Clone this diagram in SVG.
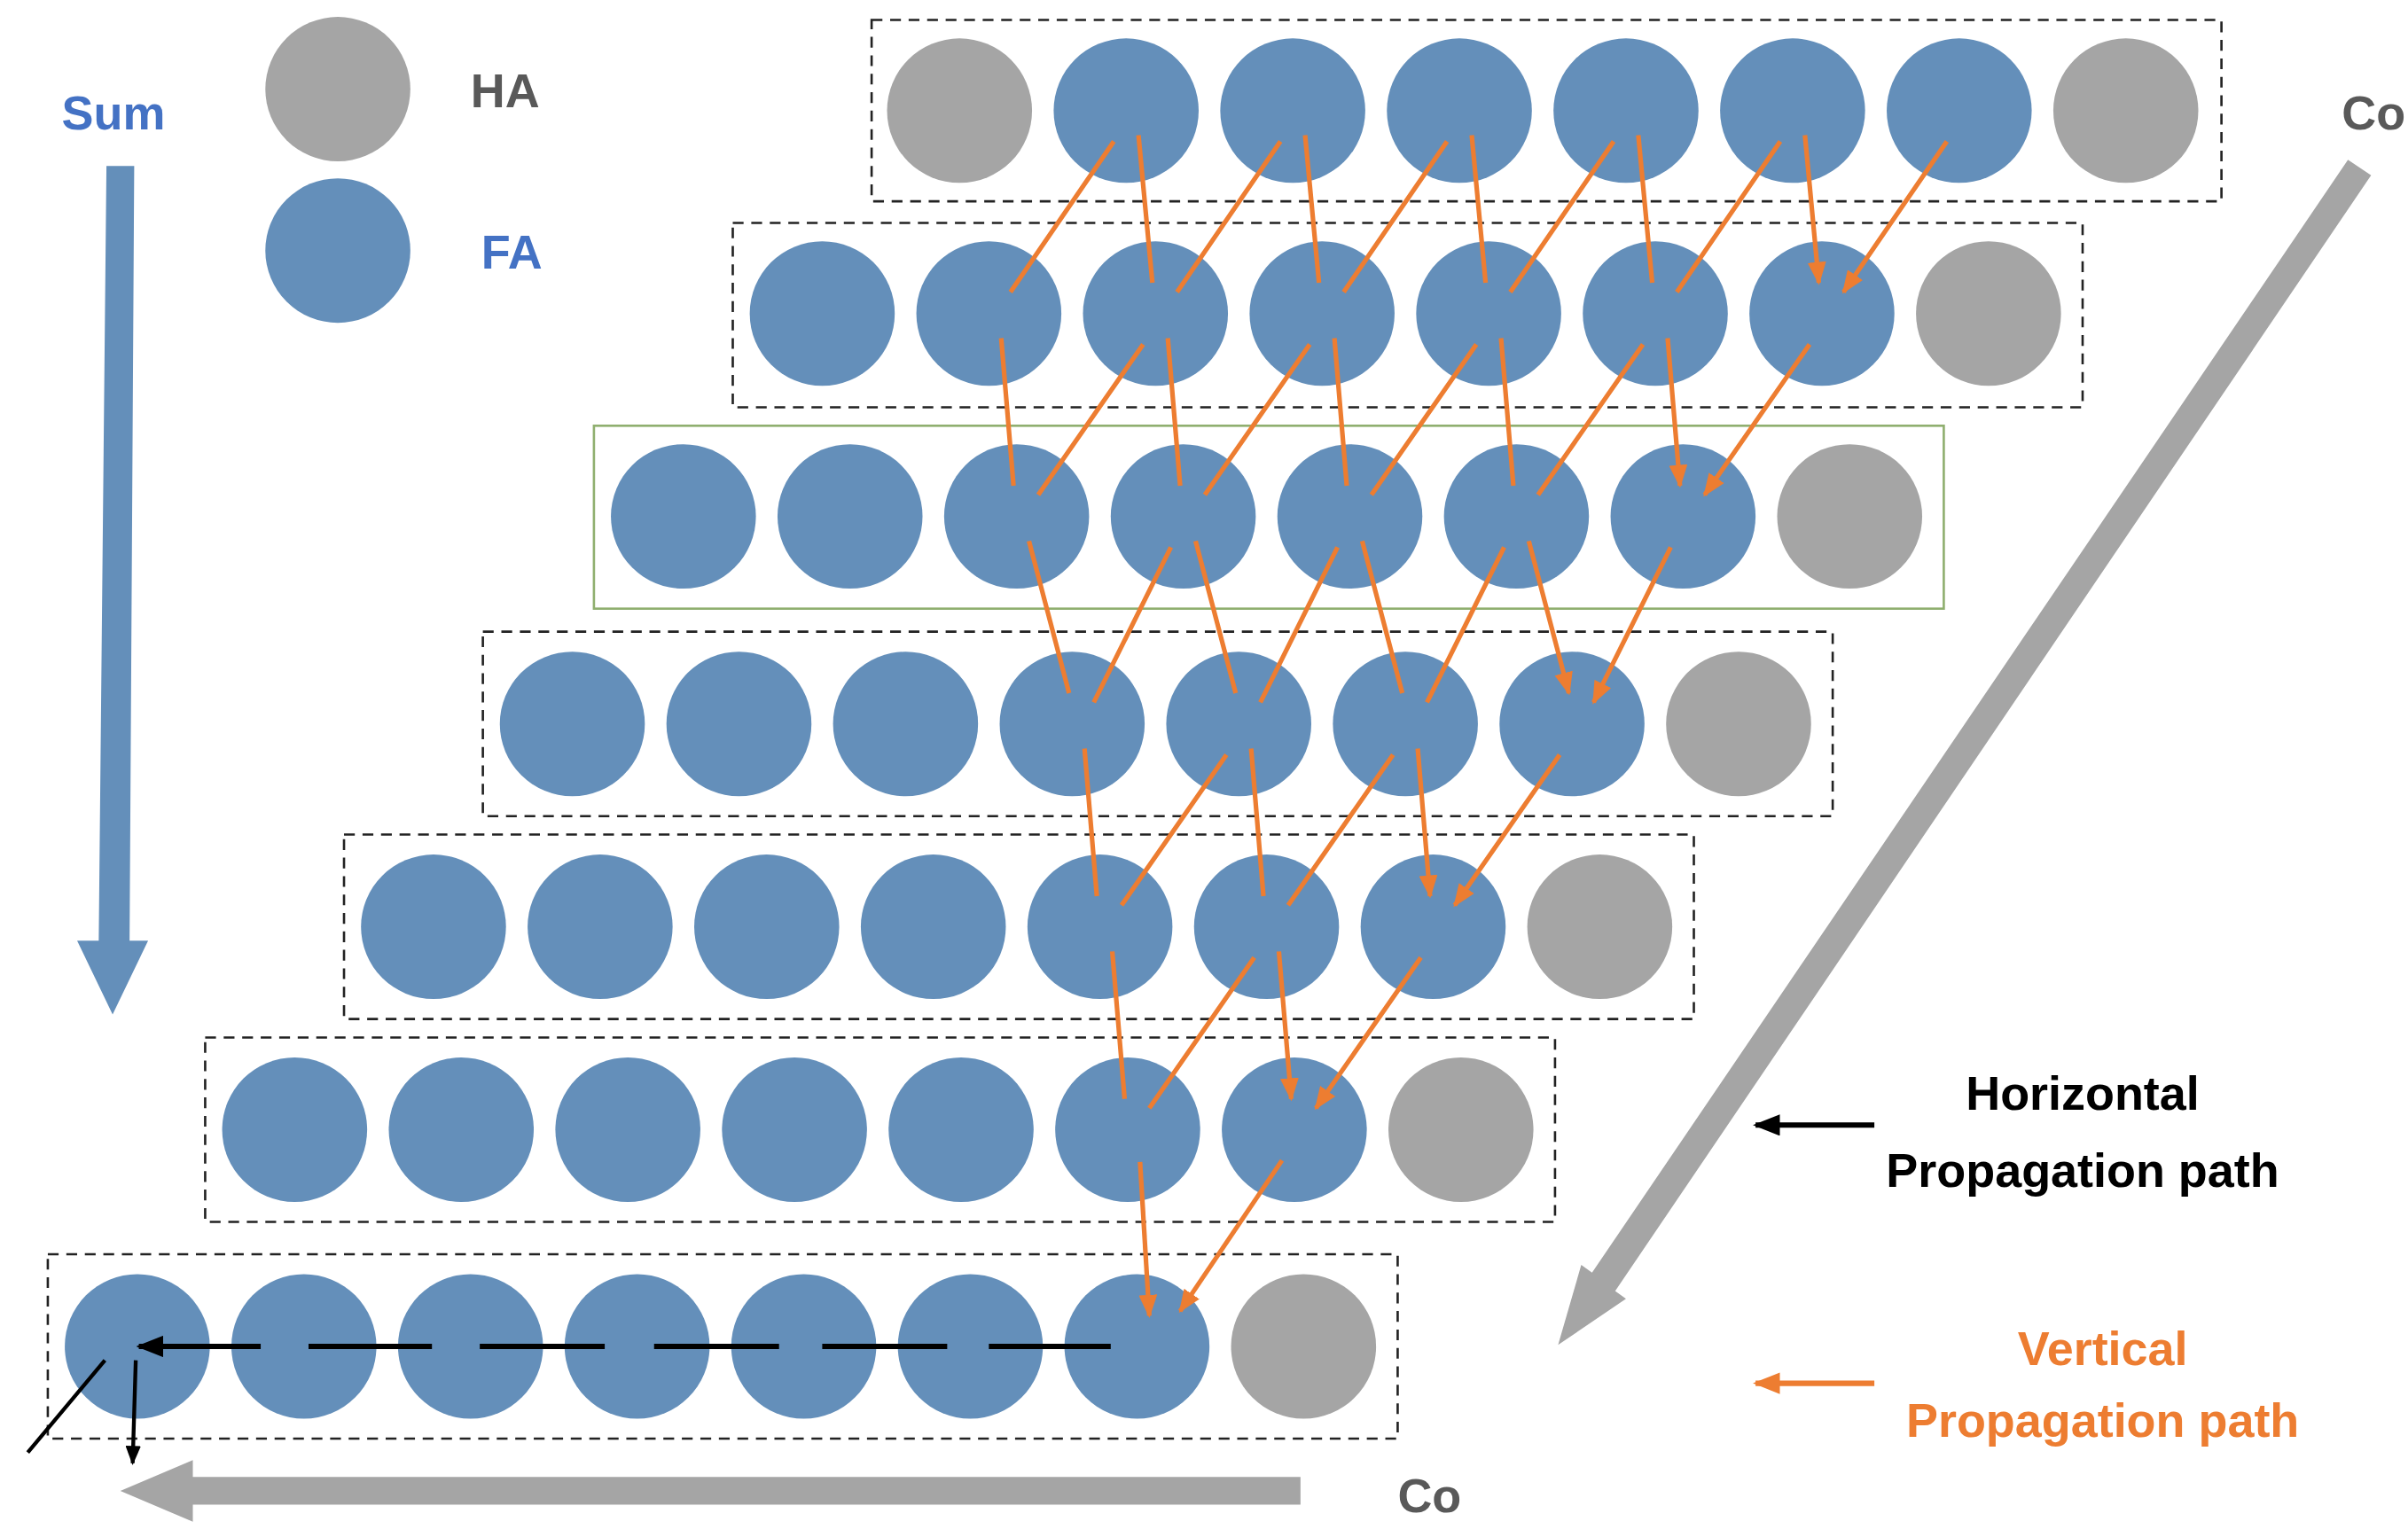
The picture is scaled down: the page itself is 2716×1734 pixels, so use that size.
<svg xmlns="http://www.w3.org/2000/svg" width="2716" height="1734" viewBox="0 0 2716 1734">
<style>
.fa{fill:#648FBA}.ha{fill:#A5A5A5}
.box{fill:none;stroke:#222;stroke-width:1.5;stroke-dasharray:7 5}
.or{stroke:#ED7D31;stroke-width:3;fill:none;marker-end:url(#mo)}
.bk{stroke:#000;stroke-width:3.5;fill:none;marker-end:url(#mb)}
.bk2{stroke:#000;stroke-width:2.5;fill:none;marker-end:url(#mb)}
text{font-family:"Liberation Sans",Arial,sans-serif;font-weight:bold;font-size:31px}
</style>
<defs>
<marker id="mo" markerWidth="5" markerHeight="4" refX="4.5" refY="2" orient="auto" markerUnits="strokeWidth"><path d="M0,0 L5,2 L0,4 z" fill="#ED7D31"/></marker>
<marker id="mb" markerWidth="5" markerHeight="4" refX="4.5" refY="2" orient="auto" markerUnits="strokeWidth"><path d="M0,0 L5,2 L0,4 z" fill="#000"/></marker>
</defs>
<rect width="2716" height="1734" fill="#fff"/>
<g transform="scale(1.74 1.734)">
<g id="legend">
<text x="40" y="84" fill="#4472C4">Sum</text>
<polygon points="69,108 87,108 84,612 96,612 73,660 50,612 64,612" fill="#648FBA"/>
<circle cx="219" cy="58" r="47" class="ha"/><text x="305" y="70" fill="#595959">HA</text>
<circle cx="219" cy="163" r="47" class="fa"/><text x="312" y="175" fill="#4472C4">FA</text>
</g>
<g id="row1"><rect x="565" y="13" width="875" height="118" class="box"/>
<circle cx="622" cy="72" r="47" class="ha"/><circle cx="730" cy="72" r="47" class="fa"/><circle cx="838" cy="72" r="47" class="fa"/><circle cx="946" cy="72" r="47" class="fa"/><circle cx="1054" cy="72" r="47" class="fa"/><circle cx="1162" cy="72" r="47" class="fa"/><circle cx="1270" cy="72" r="47" class="fa"/><circle cx="1378" cy="72" r="47" class="ha"/></g>
<g id="row2"><rect x="475" y="145" width="875" height="120" class="box"/>
<circle cx="533" cy="204" r="47" class="fa"/><circle cx="641" cy="204" r="47" class="fa"/><circle cx="749" cy="204" r="47" class="fa"/><circle cx="857" cy="204" r="47" class="fa"/><circle cx="965" cy="204" r="47" class="fa"/><circle cx="1073" cy="204" r="47" class="fa"/><circle cx="1181" cy="204" r="47" class="fa"/><circle cx="1289" cy="204" r="47" class="ha"/></g>
<g id="row3"><rect x="385" y="277" width="875" height="119" fill="none" stroke="#8FAF6F" stroke-width="1.5"/>
<circle cx="443" cy="336" r="47" class="fa"/><circle cx="551" cy="336" r="47" class="fa"/><circle cx="659" cy="336" r="47" class="fa"/><circle cx="767" cy="336" r="47" class="fa"/><circle cx="875" cy="336" r="47" class="fa"/><circle cx="983" cy="336" r="47" class="fa"/><circle cx="1091" cy="336" r="47" class="fa"/><circle cx="1199" cy="336" r="47" class="ha"/></g>
<g id="row4"><rect x="313" y="411" width="875" height="120" class="box"/>
<circle cx="371" cy="471" r="47" class="fa"/><circle cx="479" cy="471" r="47" class="fa"/><circle cx="587" cy="471" r="47" class="fa"/><circle cx="695" cy="471" r="47" class="fa"/><circle cx="803" cy="471" r="47" class="fa"/><circle cx="911" cy="471" r="47" class="fa"/><circle cx="1019" cy="471" r="47" class="fa"/><circle cx="1127" cy="471" r="47" class="ha"/></g>
<g id="row5"><rect x="223" y="543" width="875" height="120" class="box"/>
<circle cx="281" cy="603" r="47" class="fa"/><circle cx="389" cy="603" r="47" class="fa"/><circle cx="497" cy="603" r="47" class="fa"/><circle cx="605" cy="603" r="47" class="fa"/><circle cx="713" cy="603" r="47" class="fa"/><circle cx="821" cy="603" r="47" class="fa"/><circle cx="929" cy="603" r="47" class="fa"/><circle cx="1037" cy="603" r="47" class="ha"/></g>
<g id="row6"><rect x="133" y="675" width="875" height="120" class="box"/>
<circle cx="191" cy="735" r="47" class="fa"/><circle cx="299" cy="735" r="47" class="fa"/><circle cx="407" cy="735" r="47" class="fa"/><circle cx="515" cy="735" r="47" class="fa"/><circle cx="623" cy="735" r="47" class="fa"/><circle cx="731" cy="735" r="47" class="fa"/><circle cx="839" cy="735" r="47" class="fa"/><circle cx="947" cy="735" r="47" class="ha"/></g>
<g id="row7"><rect x="31" y="816" width="875" height="120" class="box"/>
<circle cx="89" cy="876" r="47" class="fa"/><circle cx="197" cy="876" r="47" class="fa"/><circle cx="305" cy="876" r="47" class="fa"/><circle cx="413" cy="876" r="47" class="fa"/><circle cx="521" cy="876" r="47" class="fa"/><circle cx="629" cy="876" r="47" class="fa"/><circle cx="737" cy="876" r="47" class="fa"/><circle cx="845" cy="876" r="47" class="ha"/></g>
<g id="connectors">
<path class="or" d="M738,88L747,184M846,88L855,184M954,88L963,184M1062,88L1071,184M1170,88L1179,184"/>
<path class="or" d="M722,92L655,190M830,92L763,190M938,92L871,190M1046,92L979,190M1154,92L1087,190M1262,92L1195,190"/>
<path class="or" d="M649,220L657,316M757,220L765,316M865,220L873,316M973,220L981,316M1081,220L1089,316"/>
<path class="or" d="M741,224L673,322M849,224L781,322M957,224L889,322M1065,224L997,322M1173,224L1105,322"/>
<path class="or" d="M667,352L693,451M775,352L801,451M883,352L909,451M991,352L1017,451"/>
<path class="or" d="M759,356L709,457M867,356L817,457M975,356L925,457M1083,356L1033,457"/>
<path class="or" d="M703,487L711,583M811,487L819,583M919,487L927,583"/>
<path class="or" d="M795,491L727,589M903,491L835,589M1011,491L943,589"/>
<path class="or" d="M721,619L729,715M829,619L837,715"/>
<path class="or" d="M813,623L745,721M921,623L853,721"/>
<path class="or" d="M739,756L745,856"/>
<path class="or" d="M831,755L765,853"/>
<path class="bk" d="M720,876L641,876M614,876L533,876M505,876L424,876M392,876L311,876M280,876L200,876M169,876L90,876"/>
<path class="bk2" d="M68,885L18,945M88,885L86,952"/>
<polygon points="843,961 125,961 125,950 78,970 125,990 125,979 843,979" fill="#A5A5A5"/>
<polygon points="1522,104 1537,114 1047,840 1054,845 1010,875 1025,823 1032,828" fill="#A5A5A5"/>
</g>
<g id="labels">
<text x="906" y="984" fill="#595959">Co</text>
<text x="1518" y="84" fill="#595959">Co</text>
<path class="bk" d="M1215,732L1138,732"/>
<text x="1350" y="722" text-anchor="middle" fill="#000">Horizontal</text>
<text x="1350" y="772" text-anchor="middle" fill="#000">Propagation path</text>
<path class="or" d="M1215,900L1138,900" style="stroke-width:3.5"/>
<text x="1363" y="888" text-anchor="middle" fill="#ED7D31">Vertical</text>
<text x="1363" y="935" text-anchor="middle" fill="#ED7D31">Propagation path</text>
</g>
</g>
</svg>
